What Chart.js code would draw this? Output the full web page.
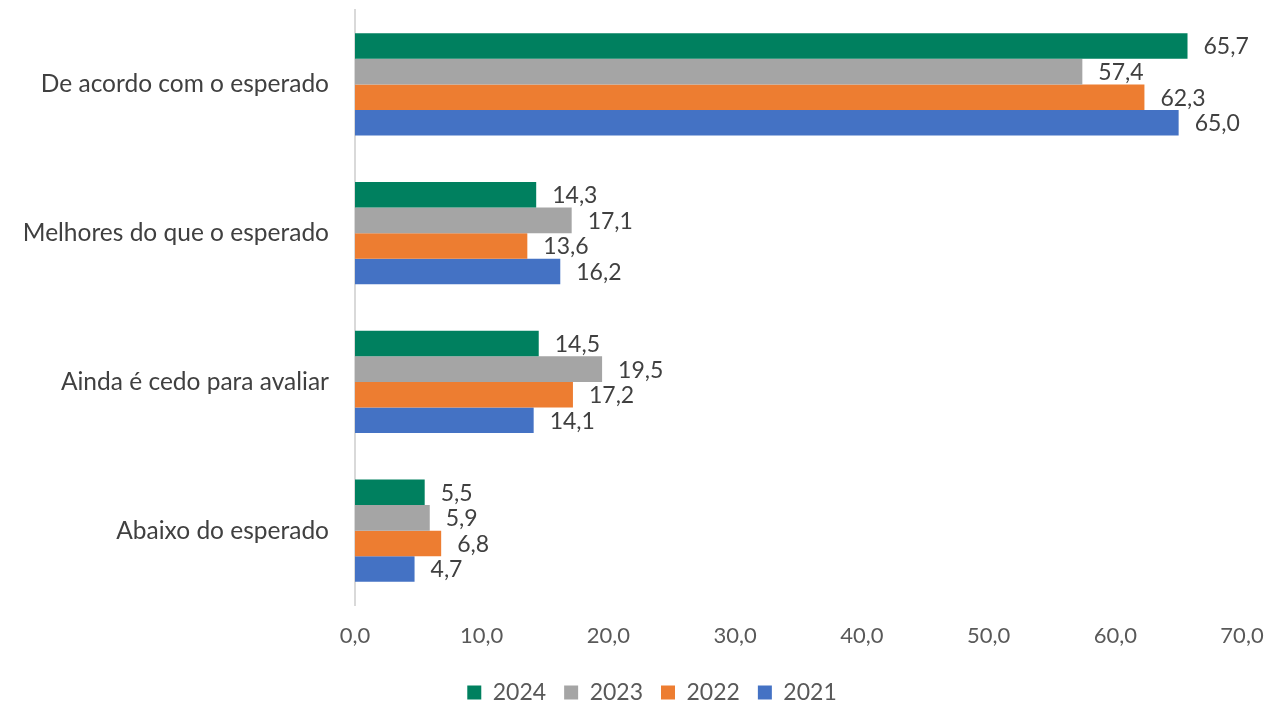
<!DOCTYPE html>
<html>
<head>
<meta charset="utf-8">
<script src="https://cdn.jsdelivr.net/npm/chart.js@4"></script>
<style>
  html, body { margin: 0; padding: 0; background: #fff; }
  #wrap { width: 1268px; height: 701px; }
</style>
</head>
<body>
<div id="wrap"><canvas id="myChart"></canvas></div>
<script>
const categorias = ['De acordo com o esperado', 'Melhores do que o esperado', 'Ainda é cedo para avaliar', 'Abaixo do esperado'];
const anos = ['2024', '2023', '2022', '2021'];
const valores2024 = [65.7, 14.3, 14.5, 5.5];
const valores2023 = [57.4, 17.1, 19.5, 5.9];
const valores2022 = [62.3, 13.6, 17.2, 6.8];
const valores2021 = [65.0, 16.2, 14.1, 4.7];
const cores = ['#00805F', '#A5A5A5', '#ED7D31', '#4472C4'];

const fonte = "Lato, 'Open Sans', sans-serif";
const fmt = v => v.toFixed(1).replace('.', ',');

// escreve os valores na ponta das barras
const rotulos = {
  id: 'rotulos',
  afterDatasetsDraw(chart) {
    const ctx = chart.ctx;
    ctx.save();
    ctx.font = '23px ' + fonte;
    ctx.fillStyle = '#404040';
    ctx.textAlign = 'left';
    ctx.textBaseline = 'middle';
    chart.data.datasets.forEach((ds, i) => {
      chart.getDatasetMeta(i).data.forEach((bar, j) => {
        ctx.fillText(fmt(ds.data[j]), bar.x + 16, bar.y + 1);
      });
    });
    ctx.restore();
  }
};

// legenda um pouco mais para a direita, como no original
const moveLegenda = {
  id: 'moveLegenda',
  afterLayout(chart) {
    if (chart.legend) {
      chart.legend.left += 31;
      chart.legend.right += 31;
    }
  }
};

const ctx = document.getElementById('myChart').getContext('2d');
new Chart(ctx, {
  type: 'bar',
  data: {
    labels: categorias,
    datasets: [valores2024, valores2023, valores2022, valores2021].map((d, i) => ({
      label: anos[i],
      data: d,
      backgroundColor: cores[i],
      borderWidth: 0,
      categoryPercentage: 0.687,
      barPercentage: 1.0,
    })),
  },
  options: {
    indexAxis: 'y',
    responsive: true,
    maintainAspectRatio: false,
    animation: false,
    layout: { padding: { left: 0, right: 26, top: 10, bottom: -13 } },
    scales: {
      x: {
        min: 0,
        max: 70,
        ticks: {
          stepSize: 10,
          color: '#595959',
          font: { family: fonte, size: 22 },
          padding: 10,
          callback: v => fmt(v),
        },
        grid: { display: false },
        border: { display: false },
        afterFit: s => { s.height = 58; s.paddingLeft = 0; s.paddingRight = 0; },
      },
      y: {
        ticks: {
          color: '#404040',
          font: { family: fonte, size: 24.5 },
          padding: 18,
        },
        grid: { display: false },
        border: { color: '#D9D9D9', width: 2 },
        afterFit: s => { s.width = 355; s.paddingTop = 0; s.paddingBottom = 0; },
      },
    },
    plugins: {
      legend: {
        position: 'bottom',
        labels: {
          boxWidth: 14,
          boxHeight: 14,
          padding: 18,
          color: '#595959',
          font: { family: fonte, size: 23 },
        },
      },
      tooltip: { enabled: false },
    },
  },
  plugins: [rotulos, moveLegenda],
});
</script>
</body>
</html>
